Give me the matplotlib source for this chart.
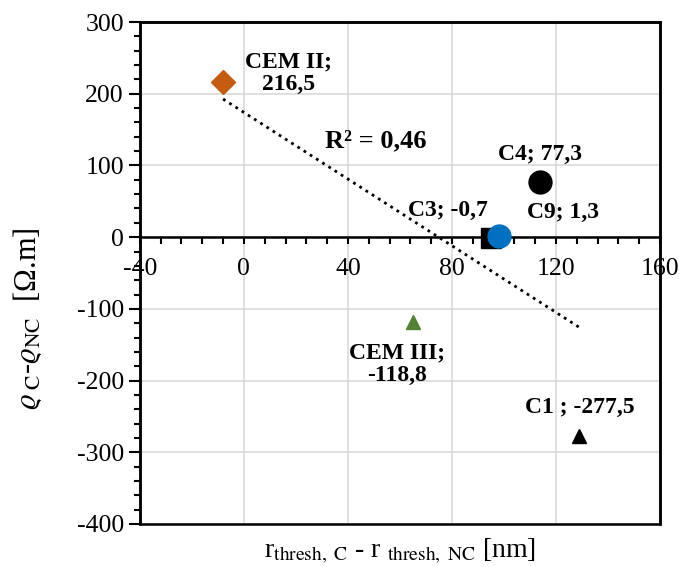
import numpy as np
import matplotlib.pyplot as plt
from matplotlib.ticker import MultipleLocator
from matplotlib.patches import Rectangle

plt.rcParams['font.family'] = ['Liberation Serif', 'DejaVu Serif']
plt.rcParams['mathtext.fontset'] = 'stix'
plt.rcParams['axes.unicode_minus'] = False

# данные
names = ['CEM II', 'C3', 'C9', 'C4', 'CEM III', 'C1']
x_vals = [-8, 95, 98, 114, 65, 129]
y_vals = [216.5, -0.7, 1.3, 77.3, -118.8, -277.5]
markers = ['D', 's', 'o', 'o', '^', '^']
colors = ['#C55A11', 'black', '#0070C0', 'black', '#548235', 'black']
sizes = [12, 14, 16.5, 16.5, 10, 10]
labels = ['CEM II;\n216,5', 'C3; -0,7', 'C9; 1,3', 'C4; 77,3', 'CEM III;\n-118,8', 'C1 ; -277,5']
label_pos = [(17, 229), (94, 37), (109, 34), (114, 115), (59, -177), (129, -238)]
label_ha = ['center', 'right', 'left', 'center', 'center', 'center']

fig = plt.figure(figsize=(6.79, 5.67), dpi=100)
ax = fig.add_axes([0.206, 0.076, 0.766, 0.885])

ax.set_xlim(-40, 160)
ax.set_ylim(-400, 300)
ax.xaxis.set_major_locator(MultipleLocator(40))
ax.xaxis.set_minor_locator(MultipleLocator(8))
ax.yaxis.set_major_locator(MultipleLocator(100))
ax.yaxis.set_minor_locator(MultipleLocator(20))
ax.grid(True, which='major', color='#D9D9D9', lw=1.2, zorder=0)
ax.set_axisbelow(True)

# линия тренда
coef = np.polyfit(x_vals, y_vals, 1)
xt = np.array([min(x_vals), max(x_vals)])
ax.plot(xt, np.polyval(coef, xt), ls=':', color='black', lw=2, zorder=2)
r2 = np.corrcoef(x_vals, y_vals)[0, 1] ** 2
ax.text(31, 135, 'R² = ' + f'{r2:.2f}'.replace('.', ','), fontsize=19,
        fontweight='bold', ha='left', va='center')

for i in range(len(names)):
    ax.plot(x_vals[i], y_vals[i], marker=markers[i], color=colors[i],
            ms=sizes[i], ls='none', zorder=4 if names[i] != 'C3' else 3)
    ax.text(label_pos[i][0], label_pos[i][1], labels[i], fontsize=17,
            fontweight='bold', ha=label_ha[i], va='center', linespacing=1.1)

# оси
ax.spines['bottom'].set_position(('data', 0))
for s in ['bottom', 'left', 'top', 'right']:
    ax.spines[s].set_linewidth(1.8)
ax.add_patch(Rectangle((0, 0), 1, 1, transform=ax.transAxes, fill=False,
                       lw=1.8, ec='black', clip_on=False, zorder=5))
ax.tick_params(axis='x', which='major', direction='out', length=5, width=1.5,
               labelsize=18.5, pad=10)
ax.tick_params(axis='x', which='minor', direction='out', length=5, width=1.5)
ax.tick_params(axis='y', which='major', direction='out', length=8, width=1.5,
               labelsize=18.5)
ax.tick_params(axis='y', which='minor', direction='out', length=4, width=1.5)

ax.set_xlabel(r'r$_{\mathrm{thresh,\ C}}$ - r $_{\mathrm{thresh,\ NC}}$ [nm]', fontsize=20)
ax.xaxis.set_label_coords(0.5, -0.025)
ax.set_ylabel(r'$\varrho_{\ \mathrm{C}}$-$\varrho_{\mathrm{NC}}$  [Ω.m]', fontsize=22)
ax.yaxis.set_label_coords(-0.185, 0.41)

plt.savefig('out.png', dpi=100)
